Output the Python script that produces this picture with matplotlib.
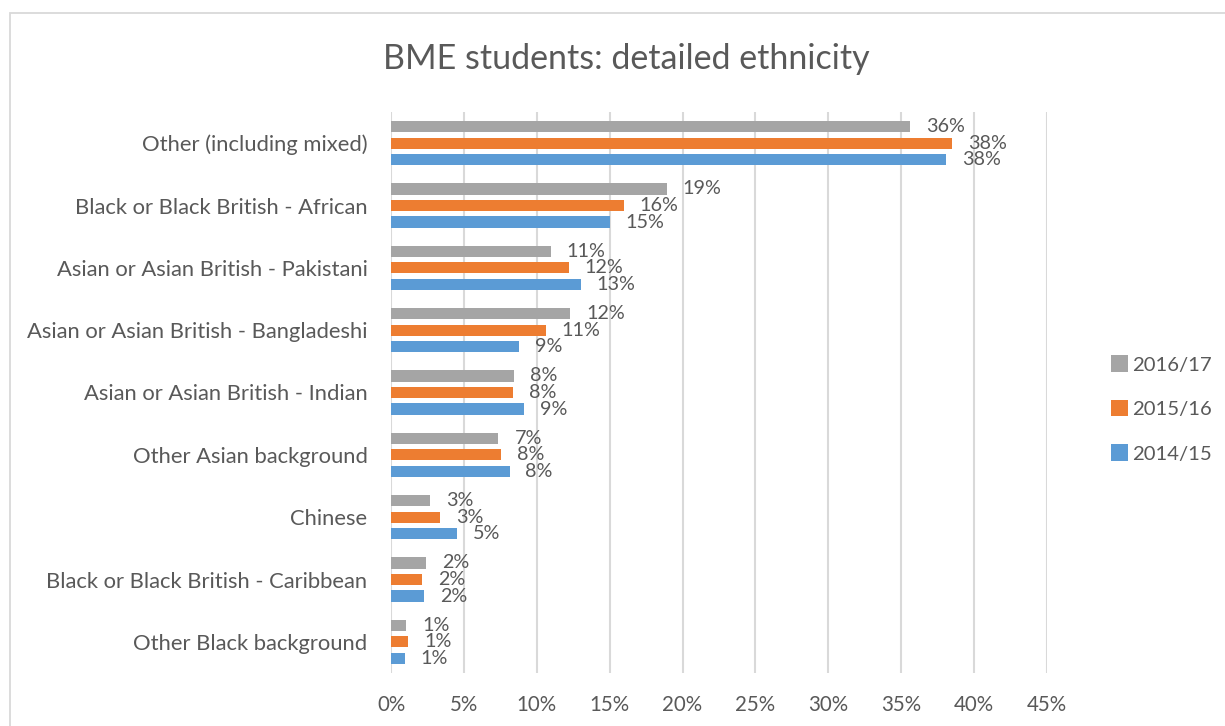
import matplotlib
matplotlib.use("Agg")
import matplotlib.pyplot as plt
from matplotlib.patches import Patch, Rectangle
from matplotlib.ticker import PercentFormatter
import numpy as np

plt.rcParams['font.family'] = ['Lato', 'DejaVu Sans']

categories = [
    "Other (including mixed)",
    "Black or Black British - African",
    "Asian or Asian British - Pakistani",
    "Asian or Asian British - Bangladeshi",
    "Asian or Asian British - Indian",
    "Other Asian background",
    "Chinese",
    "Black or Black British - Caribbean",
    "Other Black background",
]
series_names = ["2016/17", "2015/16", "2014/15"]
share_2016_17 = [0.356, 0.189, 0.1095, 0.123, 0.0845, 0.0737, 0.027, 0.0243, 0.0105]
share_2015_16 = [0.385, 0.1595, 0.122, 0.106, 0.084, 0.0755, 0.0339, 0.0215, 0.0119]
share_2014_15 = [0.381, 0.150, 0.130, 0.0877, 0.091, 0.0813, 0.0455, 0.0224, 0.0094]
x_ticks = [0, 0.05, 0.10, 0.15, 0.20, 0.25, 0.30, 0.35, 0.40, 0.45]

colors = ["#A5A5A5", "#ED7D31", "#5B9BD5"]
text_color = "#595959"
grid_color = "#D9D9D9"

fig = plt.figure(figsize=(12.25, 7.26), dpi=100)
fig.patch.set_facecolor("white")

# chart-area frame
fig.add_artist(Rectangle((10 / 1225, -0.05), 1.2, 1 - 13 / 726 + 0.05,
                         transform=fig.transFigure, fill=False,
                         edgecolor=grid_color, linewidth=1.3))

ax = fig.add_axes([391 / 1225, 1 - 673 / 726, 656 / 1225, 561 / 726])

y = np.arange(len(categories))
offsets = [-0.265, 0.0, 0.265]
bar_h = 0.18
all_series = [share_2016_17, share_2015_16, share_2014_15]

for vals, off, col, name in zip(all_series, offsets, colors, series_names):
    bars = ax.barh(y + off, vals, height=bar_h, color=col, label=name, zorder=3)
    for b, v in zip(bars, vals):
        ax.annotate(f"{v * 100:.0f}%", (v, b.get_y() + b.get_height() / 2),
                    xytext=(11.5, 0), textcoords="offset points",
                    ha="left", va="center", fontsize=14.2, color=text_color)

ax.set_xlim(0, 0.45)
ax.set_ylim(len(categories) - 0.5, -0.5)
ax.set_xticks(x_ticks)
ax.xaxis.set_major_formatter(PercentFormatter(1.0, decimals=0))
ax.set_yticks(y)
ax.set_yticklabels(categories)
ax.grid(axis="x", color=grid_color, linewidth=1.5, zorder=0)
ax.grid(axis="y", visible=False)
for s in ax.spines.values():
    s.set_visible(False)
ax.tick_params(axis="x", length=0, pad=16, labelsize=14.8, labelcolor=text_color)
ax.tick_params(axis="y", length=0, pad=17, labelsize=15.8, labelcolor=text_color)

fig.text(626 / 1225, 1 - 59 / 726, "BME students: detailed ethnicity",
         ha="center", va="center", fontsize=24.5, color=text_color)

handles = [Patch(facecolor=c, edgecolor="none") for c in colors]
leg = fig.legend(handles, series_names, loc="center left",
                 bbox_to_anchor=(1093 / 1225, 1 - 409 / 726),
                 frameon=False, fontsize=14.6, handlelength=0.85,
                 handleheight=0.85, handletextpad=0.2, labelspacing=1.3,
                 labelcolor=text_color)

fig.savefig("out.png", dpi=100, facecolor="white")
